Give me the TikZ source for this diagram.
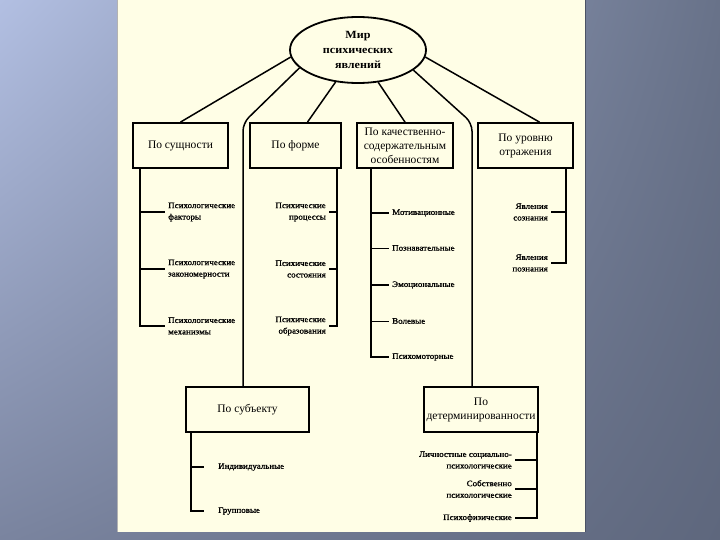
\documentclass[tikz,border=0pt]{standalone}
\usepackage{fontspec}
\setmainfont{Liberation Serif}
\newfontfamily\itemf[FakeStretch=1.08,FakeBold=1.2]{Liberation Serif}
\newfontfamily\topf[FakeStretch=1.1]{Liberation Serif}
\usetikzlibrary{shapes.geometric,shadings}
\definecolor{cream}{HTML}{FFFEE6}
\definecolor{bgTL}{HTML}{B2BFE2}
\definecolor{bgBL}{HTML}{7A849F}
\definecolor{bgTR}{HTML}{687289}
\definecolor{bgBR}{HTML}{5E677D}
\begin{document}
\begin{tikzpicture}[x=1pt,y=-1pt,
  box/.style={draw, line width=1.8pt, minimum height=45pt, inner sep=1pt, align=center,
    font=\fontsize{11.5}{14}\selectfont},
  item/.style={font=\itemf\fontsize{8.3}{11.5}\selectfont, inner sep=3pt},
  ln/.style={line width=1.5pt},
]
\useasboundingbox (0,0) rectangle (720,540);
\shade[upper left=bgTL, lower left=bgBL, upper right=bgTR, lower right=bgBR] (0,0) rectangle (720,540);
\fill[cream] (118,0) rectangle (585,532);
\draw[gray!60, line width=0.8pt] (117.6,0) -- (117.6,532);
\draw[bgBR!80!black, line width=0.8pt] (585.4,0) -- (585.4,532);

% top ellipse
\node[ellipse, draw, line width=1.8pt, minimum width=136pt, minimum height=66pt, inner sep=0pt,
  align=center, font=\topf\bfseries\fontsize{11}{15}\selectfont] (e) at (358,50)
  {Мир\\психических\\явлений};

% first-level boxes
\node[box, minimum width=95pt] (b1) at (180.5,145.5) {По сущности};
\node[box, minimum width=91pt] (b2) at (295.5,145.5) {По форме};
\node[box, minimum width=96pt] (b3) at (405,145.5) {По качественно-\\содержательным\\особенностям};
\node[box, minimum width=95pt] (b4) at (525.5,145.5) {По уровню\\отражения};
\node[box, minimum width=123pt] (b5) at (247.5,409.5) {По субъекту};
\node[box, minimum width=114pt] (b6) at (481,409.5) {По\\детерминированности};

% connectors from ellipse
\coordinate (k1) at (243,123);
\coordinate (k2) at (472,123);
\draw[ln] (e.186) -- (b1.north);
\draw[ln, rounded corners=8pt] (e.197) -- (k1) -- (k1 |- b5.north);
\draw[ln] (e.235) -- ([xshift=12pt]b2.north);
\draw[ln] (e.302) -- (b3.north);
\draw[ln, rounded corners=8pt] (e.340) -- (k2) -- (k2 |- b6.north);
\draw[ln] (e.354) -- ([xshift=14pt]b4.north);

% branch 1
\coordinate (v1) at ([xshift=8pt]b1.south west);
\node[item, anchor=west, align=left] (f1) at (165,212) {Психологические\\факторы};
\node[item, anchor=west, align=left] (f2) at (165,269) {Психологические\\закономерности};
\node[item, anchor=west, align=left] (f3) at (165,326) {Психологические\\механизмы};
\draw[ln] (v1) |- (f3.west);
\draw[ln] (f1.west -| v1) -- (f1.west);
\draw[ln] (f2.west -| v1) -- (f2.west);

% branch 2
\coordinate (v2) at ([xshift=-5pt]b2.south east);
\node[item, anchor=east, align=right] (g1) at (329,212) {Психические\\процессы};
\node[item, anchor=east, align=right] (g2) at (329,269) {Психические\\состояния};
\node[item, anchor=east, align=right] (g3) at (329,326) {Психические\\образования};
\draw[ln] (v2) |- (g3.east);
\draw[ln] (g1.east -| v2) -- (g1.east);
\draw[ln] (g2.east -| v2) -- (g2.east);

% branch 3
\coordinate (v3) at ([xshift=15pt]b3.south west);
\node[item, anchor=west] (h1) at (389,213) {Мотивационные};
\node[item, anchor=west] (h2) at (389,248) {Познавательные};
\node[item, anchor=west] (h3) at (389,285) {Эмоциональные};
\node[item, anchor=west] (h4) at (389,321) {Волевые};
\node[item, anchor=west] (h5) at (389,357) {Психомоторные};
\draw[ln] (v3) |- (h5.west);
\draw[line width=2pt] (h1.west -| v3) -- (h1.west);
\draw[line width=0.8pt] (h2.west -| v3) -- (h2.west);
\draw[line width=2pt] (h3.west -| v3) -- (h3.west);
\draw[line width=1pt] (h4.west -| v3) -- (h4.west);

% branch 4
\coordinate (v4) at ([xshift=-8pt]b4.south east);
\node[item, anchor=east, align=right] (j1) at (551,212) {Явления\\сознания};
\node[item, anchor=east, align=right] (j2) at (551,263) {Явления\\познания};
\draw[ln] (v4) |- (j2.east);
\draw[ln] (j1.east -| v4) -- (j1.east);

% branch 5
\coordinate (v5) at ([xshift=6pt]b5.south west);
\node[item, anchor=west] (m1) at (215,467) {Индивидуальные};
\node[item, anchor=west] (m2) at (215,511) {Групповые};
\draw[ln] (v5) |- ([xshift=-11pt]m2.west);
\draw[ln] (m1.west -| v5) -- ([xshift=-11pt]m1.west);

% branch 6
\coordinate (v6) at ([xshift=-2pt]b6.south east);
\node[item, anchor=east, align=right] (n1) at (515,460) {Личностные социально-\\психологические};
\node[item, anchor=east, align=right] (n2) at (515,489) {Собственно\\психологические};
\node[item, anchor=east] (n3) at (515,518) {Психофизические};
\draw[ln] (v6) |- (n3.east);
\draw[ln] (n1.east -| v6) -- (n1.east);
\draw[ln] (n2.east -| v6) -- (n2.east);
\end{tikzpicture}
\end{document}
